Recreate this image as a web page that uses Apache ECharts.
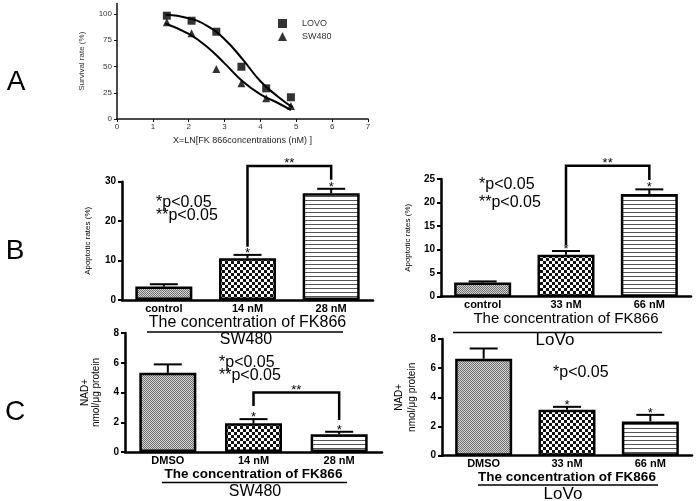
<!DOCTYPE html>
<html><head><meta charset="utf-8">
<script src="https://cdn.jsdelivr.net/npm/echarts@6/dist/echarts.min.js"></script>
<style>html,body{margin:0;padding:0;background:#fff}#c{width:699px;height:501px}</style>
</head><body><div id="c"></div>
<script>
// ---------- Panel A data ----------
const lnConc = [1.39, 2.08, 2.77, 3.47, 4.16, 4.85];
const lovoSurvival = [98.4, 93.6, 83.1, 49.8, 29.2, 20.7];
const sw480Survival = [92.1, 81.6, 47.6, 34.0, 19.7, 12.4];
const lovoFitX = [1.35, 2.0, 2.5, 3.0, 3.5, 4.0, 4.5, 4.9];
const lovoFitY = [99.5, 96, 89, 76, 57, 36, 21, 11];
const sw480FitX = [1.35, 2.0, 2.5, 3.0, 3.5, 4.0, 4.5, 4.85];
const sw480FitY = [91, 81, 69, 53, 36, 23.5, 15, 8.5];
const survivalTicks = [0, 25, 50, 75, 100];

// ---------- Panel B data ----------
const bLeftCats = ['control', '14 nM', '28 nM'];
const bLeftVals = [3.4, 10.6, 27.1];
const bLeftErr = [0.6, 0.84, 1.1];
const bLeftStars = ['', '*', '*'];
const bLeftBracket = [1, 2, 13.5, 34, 30.5];

const bRightCats = ['control', '33 nM', '66 nM'];
const bRightVals = [3.0, 8.9, 21.8];
const bRightErr = [0.25, 0.8, 1.0];
const bRightStars = ['', '*', '*'];
const bRightBracket = [1, 2, 11, 27.8, 24.8];

// ---------- Panel C data ----------
const cLeftCats = ['DMSO', '14 nM', '28 nM'];
const cLeftVals = [5.32, 1.93, 1.19];
const cLeftErr = [0.57, 0.28, 0.17];
const cLeftStars = ['', '*', '*'];
const cLeftBracket = [1, 2, 3.1, 4.0, 2.15];

const cRightCats = ['DMSO', '33 nM', '66 nM'];
const cRightVals = [6.65, 3.15, 2.35];
const cRightErr = [0.7, 0.2, 0.45];
const cRightStars = ['', '*', '*'];

const FONT = "'Liberation Sans', Arial, sans-serif";

function makePattern(type) {
  const c = document.createElement('canvas');
  const ctx = c.getContext('2d');
  if (type === 'dots') {
    c.width = 2; c.height = 2;
    ctx.fillStyle = '#d4d4d4'; ctx.fillRect(0, 0, 2, 2);
    ctx.fillStyle = '#707070'; ctx.fillRect(0, 0, 1, 1); ctx.fillRect(1, 1, 1, 1);
  } else if (type === 'checker') {
    c.width = 6; c.height = 6;
    ctx.fillStyle = '#fff'; ctx.fillRect(0, 0, 6, 6);
    ctx.fillStyle = '#111'; ctx.fillRect(0, 0, 3, 3); ctx.fillRect(3, 3, 3, 3);
  } else {
    c.width = 4; c.height = 4;
    ctx.fillStyle = '#fff'; ctx.fillRect(0, 0, 4, 4);
    ctx.fillStyle = '#555'; ctx.fillRect(0, 0, 4, 1);
  }
  return { image: c, repeat: 'repeat' };
}
const patterns = [makePattern('dots'), makePattern('checker'), makePattern('lines')];

const chart = echarts.init(document.getElementById('c'), null, { renderer: 'canvas' });

const grids = [
  { left: 117, top: 3.5, width: 251, height: 115.5 },   // A
  { left: 122, top: 181.7, width: 251, height: 118.3 }, // B left
  { left: 441, top: 179, width: 250, height: 117.7 },   // B right
  { left: 125, top: 333, width: 257, height: 119 },     // C left
  { left: 442, top: 339, width: 250, height: 116.7 }    // C right
];

function catAxis(idx, cats, name, nameStyle, nameGap) {
  return {
    type: 'category', gridIndex: idx, data: cats,
    axisLine: { lineStyle: { color: '#000', width: 2.5 } },
    axisTick: { show: false },
    axisLabel: { color: '#000', fontWeight: 'bold', fontSize: 11, fontFamily: FONT, margin: 3 },
    name: name, nameLocation: 'middle', nameGap: nameGap,
    nameTextStyle: Object.assign({ color: '#000', fontFamily: FONT }, nameStyle)
  };
}
function valAxis(idx, max, interval, name, nameGap, nameStyle) {
  return {
    type: 'value', gridIndex: idx, min: 0, max: max, interval: interval,
    splitLine: { show: false },
    axisLine: { show: true, lineStyle: { color: '#000', width: 2.5 } },
    axisTick: { show: true, length: 4, lineStyle: { color: '#000', width: 2 } },
    axisLabel: { color: '#000', fontWeight: 'bold', fontSize: 10, fontFamily: FONT, margin: 6 },
    name: name, nameLocation: 'middle', nameGap: nameGap,
    nameTextStyle: Object.assign({ color: '#000', fontFamily: FONT, fontSize: 8, lineHeight: 12 }, nameStyle)
  };
}

function barSeries(idx, vals) {
  return {
    type: 'bar', xAxisIndex: idx, yAxisIndex: idx, barWidth: 57, silent: true,
    itemStyle: { borderColor: '#000', borderWidth: 2.5 },
    data: vals.map((v, i) => ({ value: v, itemStyle: { color: patterns[i] } }))
  };
}
function errSeries(idx, vals, errs, stars) {
  return {
    type: 'custom', xAxisIndex: idx, yAxisIndex: idx, clip: false, z: 5, silent: true,
    data: vals.map((v, i) => [i, v, errs[i]]),
    renderItem: function (params, api) {
      const x = api.value(0), v = api.value(1), e = api.value(2);
      const base = api.coord([x, v]);
      const top = api.coord([x, v + e]);
      const half = 14;
      const star = stars[params.dataIndex];
      const children = [
        { type: 'line', shape: { x1: base[0], y1: base[1], x2: top[0], y2: top[1] }, style: { stroke: '#000', lineWidth: 2 } },
        { type: 'line', shape: { x1: top[0] - half, y1: top[1], x2: top[0] + half, y2: top[1] }, style: { stroke: '#000', lineWidth: 2 } }
      ];
      if (star) {
        children.push({ type: 'text', x: top[0], y: top[1] + 5, style: { text: star, align: 'center', verticalAlign: 'bottom', fontSize: 13, fontFamily: FONT, fill: '#000' } });
      }
      return { type: 'group', children: children };
    }
  };
}
function bracketSeries(idx, br) {
  return {
    type: 'custom', xAxisIndex: idx, yAxisIndex: idx, clip: false, z: 6, silent: true,
    data: [br],
    renderItem: function (params, api) {
      const l = api.value(0), r = api.value(1);
      const p1 = api.coord([l, api.value(2)]);
      const p2 = api.coord([l, api.value(3)]);
      const p3 = api.coord([r, api.value(3)]);
      const p4 = api.coord([r, api.value(4)]);
      return {
        type: 'group', children: [
          { type: 'polyline', shape: { points: [p1, p2, p3, p4] }, style: { stroke: '#000', lineWidth: 2.5, fill: null } },
          { type: 'text', x: (p2[0] + p3[0]) / 2, y: p2[1] + 4, style: { text: '**', align: 'center', verticalAlign: 'bottom', fontSize: 13, fontFamily: FONT, fill: '#000' } }
        ]
      };
    }
  };
}

const option = {
  animation: false,
  backgroundColor: '#fff',
  grid: grids,
  legend: {
    data: ['LOVO', 'SW480'], orient: 'vertical', left: 273, top: 14,
    itemWidth: 9, itemHeight: 9, itemGap: 4,
    formatter: n => '    ' + n,
    textStyle: { fontSize: 9, color: '#333', fontFamily: FONT }
  },
  xAxis: [
    {
      type: 'value', gridIndex: 0, min: 0, max: 7, interval: 1,
      splitLine: { show: false },
      axisLine: { lineStyle: { color: '#111', width: 1.5 } },
      axisTick: { show: true, length: 3, lineStyle: { color: '#111', width: 1 } },
      axisLabel: { color: '#333', fontSize: 8, fontFamily: FONT, margin: 4 },
      name: 'X=LN[FK 866concentrations (nM) ]', nameLocation: 'middle', nameGap: 17,
      nameTextStyle: { color: '#222', fontSize: 9, fontFamily: FONT }
    },
    catAxis(1, bLeftCats, 'The concentration of FK866', { fontSize: 16 }, 13),
    catAxis(2, bRightCats, 'The concentration of FK866', { fontSize: 15 }, 14),
    catAxis(3, cLeftCats, 'The concentration of FK866', { fontSize: 13.5, fontWeight: 'bold' }, 15),
    catAxis(4, cRightCats, 'The concentration of FK866', { fontSize: 13.5, fontWeight: 'bold' }, 14)
  ],
  yAxis: [
    {
      type: 'value', gridIndex: 0, min: 0, max: 110,
      splitLine: { show: false },
      axisLine: { show: true, lineStyle: { color: '#111', width: 1.5 } },
      axisTick: { show: true, length: 3, customValues: survivalTicks, lineStyle: { color: '#111', width: 1 } },
      axisLabel: { color: '#333', fontSize: 8, fontFamily: FONT, margin: 5, customValues: survivalTicks },
      name: 'Survival rate (%)', nameLocation: 'middle', nameGap: 31,
      nameTextStyle: { color: '#333', fontSize: 8, fontFamily: FONT }
    },
    valAxis(1, 30, 10, 'Apoptotic rates (%)', 28, {}),
    valAxis(2, 25, 5, 'Apoptotic rates (%)', 27, {}),
    valAxis(3, 8, 2, 'NAD+\nnmol/\u03bcg protein', 23, { fontSize: 10, lineHeight: 11 }),
    valAxis(4, 8, 2, 'NAD+\nnmol/\u03bcg protein', 23, { fontSize: 10, lineHeight: 13 })
  ],
  series: [
    { name: 'LOVO fit', type: 'line', xAxisIndex: 0, yAxisIndex: 0, smooth: 0.5, showSymbol: false, silent: true,
      lineStyle: { color: '#000', width: 2 }, data: lovoFitX.map((x, i) => [x, lovoFitY[i]]) },
    { name: 'SW480 fit', type: 'line', xAxisIndex: 0, yAxisIndex: 0, smooth: 0.5, showSymbol: false, silent: true,
      lineStyle: { color: '#000', width: 2 }, data: sw480FitX.map((x, i) => [x, sw480FitY[i]]) },
    { name: 'LOVO', type: 'scatter', xAxisIndex: 0, yAxisIndex: 0, symbol: 'rect', symbolSize: 8, z: 4,
      itemStyle: { color: '#000' }, data: lnConc.map((x, i) => [x, lovoSurvival[i]]) },
    { name: 'SW480', type: 'scatter', xAxisIndex: 0, yAxisIndex: 0, symbol: 'triangle', symbolSize: 8, z: 4,
      itemStyle: { color: '#000' }, data: lnConc.map((x, i) => [x, sw480Survival[i]]) },

    barSeries(1, bLeftVals), errSeries(1, bLeftVals, bLeftErr, bLeftStars), bracketSeries(1, bLeftBracket),
    barSeries(2, bRightVals), errSeries(2, bRightVals, bRightErr, bRightStars), bracketSeries(2, bRightBracket),
    barSeries(3, cLeftVals), errSeries(3, cLeftVals, cLeftErr, cLeftStars), bracketSeries(3, cLeftBracket),
    barSeries(4, cRightVals), errSeries(4, cRightVals, cRightErr, cRightStars)
  ],
  graphic: [
    { type: 'text', x: 16, y: 82, style: { text: 'A', fontSize: 28, fontFamily: FONT, fill: '#000', align: 'center', verticalAlign: 'middle' } },
    { type: 'text', x: 15, y: 251, style: { text: 'B', fontSize: 28, fontFamily: FONT, fill: '#000', align: 'center', verticalAlign: 'middle' } },
    { type: 'text', x: 15, y: 412, style: { text: 'C', fontSize: 28, fontFamily: FONT, fill: '#000', align: 'center', verticalAlign: 'middle' } },

    { type: 'text', x: 156, y: 203, style: { text: '*p<0.05', fontSize: 16, fontFamily: FONT, fill: '#000', verticalAlign: 'middle' } },
    { type: 'text', x: 156, y: 216, style: { text: '**p<0.05', fontSize: 16, fontFamily: FONT, fill: '#000', verticalAlign: 'middle' } },
    { type: 'text', x: 479, y: 185, style: { text: '*p<0.05', fontSize: 16, fontFamily: FONT, fill: '#000', verticalAlign: 'middle' } },
    { type: 'text', x: 479, y: 203, style: { text: '**p<0.05', fontSize: 16, fontFamily: FONT, fill: '#000', verticalAlign: 'middle' } },
    { type: 'text', x: 219, y: 363, style: { text: '*p<0.05', fontSize: 16, fontFamily: FONT, fill: '#000', verticalAlign: 'middle' } },
    { type: 'text', x: 219, y: 376, style: { text: '**p<0.05', fontSize: 16, fontFamily: FONT, fill: '#000', verticalAlign: 'middle' } },
    { type: 'text', x: 553, y: 373, style: { text: '*p<0.05', fontSize: 16, fontFamily: FONT, fill: '#000', verticalAlign: 'middle' } },

    { type: 'line', shape: { x1: 147, y1: 332, x2: 343, y2: 332 }, style: { stroke: '#000', lineWidth: 1.5 } },
    { type: 'line', shape: { x1: 453, y1: 332.5, x2: 662, y2: 332.5 }, style: { stroke: '#000', lineWidth: 1.5 } },
    { type: 'line', shape: { x1: 162, y1: 482.5, x2: 347, y2: 482.5 }, style: { stroke: '#000', lineWidth: 1.5 } },
    { type: 'line', shape: { x1: 478, y1: 485, x2: 658, y2: 485 }, style: { stroke: '#000', lineWidth: 1.5 } },

    { type: 'text', x: 246, y: 340, style: { text: 'SW480', fontSize: 16, fontFamily: FONT, fill: '#000', align: 'center', verticalAlign: 'middle' } },
    { type: 'text', x: 555, y: 340, style: { text: 'LoVo', fontSize: 17, fontFamily: FONT, fill: '#000', align: 'center', verticalAlign: 'middle' } },
    { type: 'text', x: 255, y: 492, style: { text: 'SW480', fontSize: 16, fontFamily: FONT, fill: '#000', align: 'center', verticalAlign: 'middle' } },
    { type: 'text', x: 563, y: 494, style: { text: 'LoVo', fontSize: 17, fontFamily: FONT, fill: '#000', align: 'center', verticalAlign: 'middle' } }
  ]
};
chart.setOption(option);
</script>
</body></html>
